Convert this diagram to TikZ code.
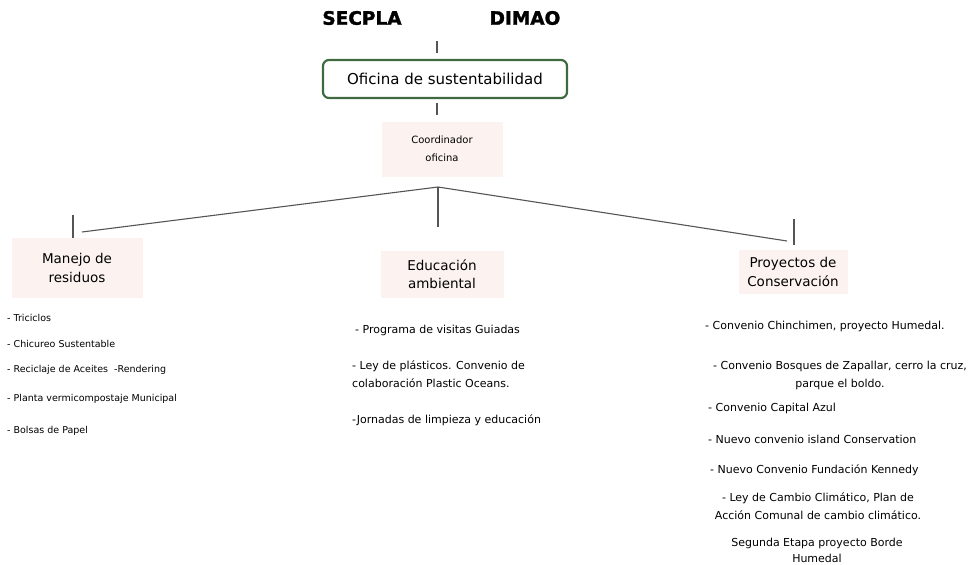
\documentclass[tikz,border=0pt]{standalone}
\usepackage{fontspec}
\setmainfont{DejaVu Sans}
\newfontfamily\blackfont{DejaVu Sans}[BoldFeatures={FakeBold=1.6}]
\usepackage{tikz}
\usetikzlibrary{calc, positioning}

\definecolor{boxgreen}{HTML}{3F6A3F}
\definecolor{blush}{HTML}{FCF3F0}
\definecolor{linegray}{HTML}{555555}

\tikzset{
  title/.style={font=\blackfont\bfseries\fontsize{18.5}{20}\selectfont},
  office/.style={draw=boxgreen, line width=2.2pt, rounded corners=6pt,
    minimum width=244pt, minimum height=38pt, font=\fontsize{15}{18}\selectfont},
  head/.style={fill=blush, align=center, font=\fontsize{13.5}{18.5}\selectfont},
  item/.style={anchor=west, inner sep=0pt, font=\fontsize{11}{18}\selectfont},
  small/.style={anchor=west, inner sep=0pt, font=\fontsize{9.5}{12}\selectfont},
  link/.style={draw=linegray, line width=1.1pt}
}

\begin{document}
\begin{tikzpicture}[x=1pt, y=-1pt]
\useasboundingbox (0,0) rectangle (970,565);

%top
\node[title] (secpla) at (362,18) {SECPLA};
\node[title] (dimao) at (525,18) {DIMAO};
\node[office] (oficina) at (445,79) {Oficina de sustentabilidad};
\node[fill=blush, minimum width=121pt, minimum height=55pt, align=center,
  font=\fontsize{10}{18}\selectfont] (coord) at (442,149) {Coordinador\\oficina};

%ticks
\coordinate (t1) at (437,41);
\coordinate (t2) at (437,53);
\coordinate (t3) at (437,103);
\coordinate (t4) at (437,115);
\draw[link] (t1) -- (t2);
\draw[link] (t3) -- (t4);

%branches
\coordinate (hub) at (438,187);
\coordinate (lend) at (82,232);
\coordinate (mend) at (438,227);
\coordinate (rend) at (787,241);
\coordinate (ltop) at (73,215);
\coordinate (lbot) at (73,242);
\coordinate (rtop) at (794,219);
\coordinate (rbot) at (794,245);
\draw[link] (hub) -- (lend);
\draw[link] (hub) -- (mend);
\draw[link] (hub) -- (rend);
\draw[link] (ltop) -- (lbot);
\draw[link] (rtop) -- (rbot);

\node[head, minimum width=131pt, minimum height=60pt] (residuos) at (77,268) {Manejo de\\residuos};
\node[head, minimum width=123pt, minimum height=47pt] (educacion) at (442,274) {Educación\\ambiental};
\node[head, minimum width=109pt, minimum height=44pt] (conservacion) at (793,272) {Proyectos de\\Conservación};

%left list
\node[small] (r1) at (7,318) {- Triciclos};
\node[small] (r2) at (7,344) {- Chicureo Sustentable};
\node[small] (r3) at (7,370) {- Reciclaje de Aceites \ -Rendering};
\node[small] (r4) at (7,399) {- Planta vermicompostaje Municipal};
\node[small] (r5) at (7,431) {- Bolsas de Papel};

%middle list
\node[item] (e1) at (355,330) {- Programa de visitas Guiadas};
\node[item, align=left] (e2) at (352,374) {- Ley de plásticos. Convenio de\\colaboración Plastic Oceans.};
\node[item] (e3) at (352,420) {-Jornadas de limpieza y educación};

%right list
\node[item] (c1) at (705,326) {- Convenio Chinchimen, proyecto Humedal.};
\node[item, anchor=center, align=center] (c2) at (840,375) {- Convenio Bosques de Zapallar, cerro la cruz,\\parque el boldo.};
\node[item] (c3) at (708,408) {- Convenio Capital Azul};
\node[item] (c4) at (708,439) {- Nuevo convenio island Conservation};
\node[item] (c5) at (710,470) {- Nuevo Convenio Fundación Kennedy};
\node[item, anchor=center, align=center] (c6) at (818,506) {- Ley de Cambio Climático, Plan de\\Acción Comunal de cambio climático.};
\node[item, anchor=center, align=center, font=\fontsize{11}{16}\selectfont] (c7) at (817,550) {Segunda Etapa proyecto Borde\\Humedal};
\end{tikzpicture}
\end{document}
